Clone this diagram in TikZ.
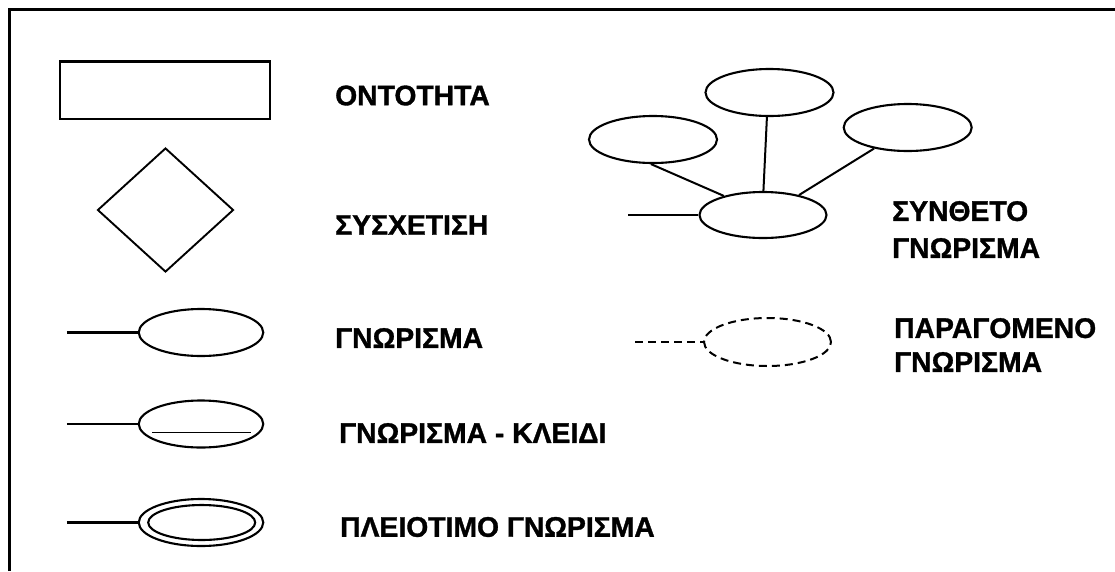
\documentclass[tikz,border=0pt]{standalone}
\usepackage{fontspec}
\setmainfont{Liberation Sans}[BoldFeatures={FakeBold=1.2}]
\usetikzlibrary{shapes.geometric}
\begin{document}
\begin{tikzpicture}[x=1pt,y=-1pt,
  attr/.style={ellipse, draw, line width=2.1pt, minimum width=124.5pt, minimum height=47pt, inner sep=0pt},
  link/.style={line width=2.4pt},
  legend/.style={font=\bfseries\fontsize{28.3}{30}\selectfont, anchor=west, inner sep=0pt, align=left}]

\useasboundingbox (0,0) rectangle (1115,571);
% frame
\draw[line width=3.2pt] (9.5,571) -- (9.5,9.5) -- (1115,9.5);

% entity
\node[draw, line width=2.5pt, minimum width=210pt, minimum height=57.5pt, inner sep=0pt] (ent) at (165,90) {};
\node[legend] (entlbl) at (335,95.5) {ΟΝΤΟΤΗΤΑ};

% relationship
\node[diamond, draw, line width=1.9pt, minimum width=136pt, minimum height=124pt, inner sep=0pt] (rel) at (165.5,210) {};
\node[legend] (rellbl) at (335,225) {ΣΥΣΧΕΤΙΣΗ};

% attribute
\node[attr] (a1) at (201,332.5) {};
\coordinate (a1s) at (66.8,332.5);
\draw[link] (a1s) -- (a1.west);
\node[legend] (a1lbl) at (335,338) {ΓΝΩΡΙΣΜΑ};

% key attribute
\node[attr] (a2) at (201,424) {};
\coordinate (a2s) at (66.8,424);
\draw[link] (a2s) -- (a2.west);
\draw[line width=1.5pt] ([xshift=-49pt,yshift=-8.5pt]a2.center) -- ([xshift=50pt,yshift=-8.5pt]a2.center);
\node[legend] (a2lbl) at (339,433) {ΓΝΩΡΙΣΜΑ - ΚΛΕΙΔΙ};

% multivalued attribute
\node[attr] (a3) at (201,522.5) {};
\node[ellipse, draw, line width=2.1pt, minimum width=107pt, minimum height=35pt, inner sep=0pt] (a3in) at (201.7,522.5) {};
\coordinate (a3s) at (66.8,522.5);
\draw[link] (a3s) -- (a3.west);
\node[legend] (a3lbl) at (340,527) {ΠΛΕΙΟΤΙΜΟ ΓΝΩΡΙΣΜΑ};

% composite attribute
\node[attr, minimum width=128pt] (cL) at (653,139.5) {};
\node[attr, minimum width=128pt] (cT) at (769.5,92.5) {};
\node[attr, minimum width=128pt] (cR) at (907.7,127.5) {};
\node[attr, minimum width=127pt, minimum height=46pt] (cC) at (763,215) {};
\coordinate (cs) at (628,215);
\draw[link] (cs) -- (cC.west);
\draw[line width=2pt] (cL.-95) -- (cC.154.7);
\draw[line width=2pt] (cT.-96) -- (cC.89);
\draw[line width=2pt] (cR.-148.7) -- (cC.29.4);
\node[legend, font=\bfseries\fontsize{28.3}{37}\selectfont] (clbl) at (892,229.5) {ΣΥΝΘΕΤΟ\\ΓΝΩΡΙΣΜΑ};

% derived attribute
\node[attr, minimum width=127pt, minimum height=48pt, dash pattern=on 8pt off 5pt, line width=2pt] (dv) at (767.5,342) {};
\coordinate (ds) at (635,342);
\draw[line width=2pt, dash pattern=on 8pt off 5pt] (ds) -- (dv.west);
\node[legend, font=\bfseries\fontsize{28.3}{34}\selectfont] (dlbl) at (894,345) {ΠΑΡΑΓΟΜΕΝΟ\\ΓΝΩΡΙΣΜΑ};

\end{tikzpicture}
\end{document}
